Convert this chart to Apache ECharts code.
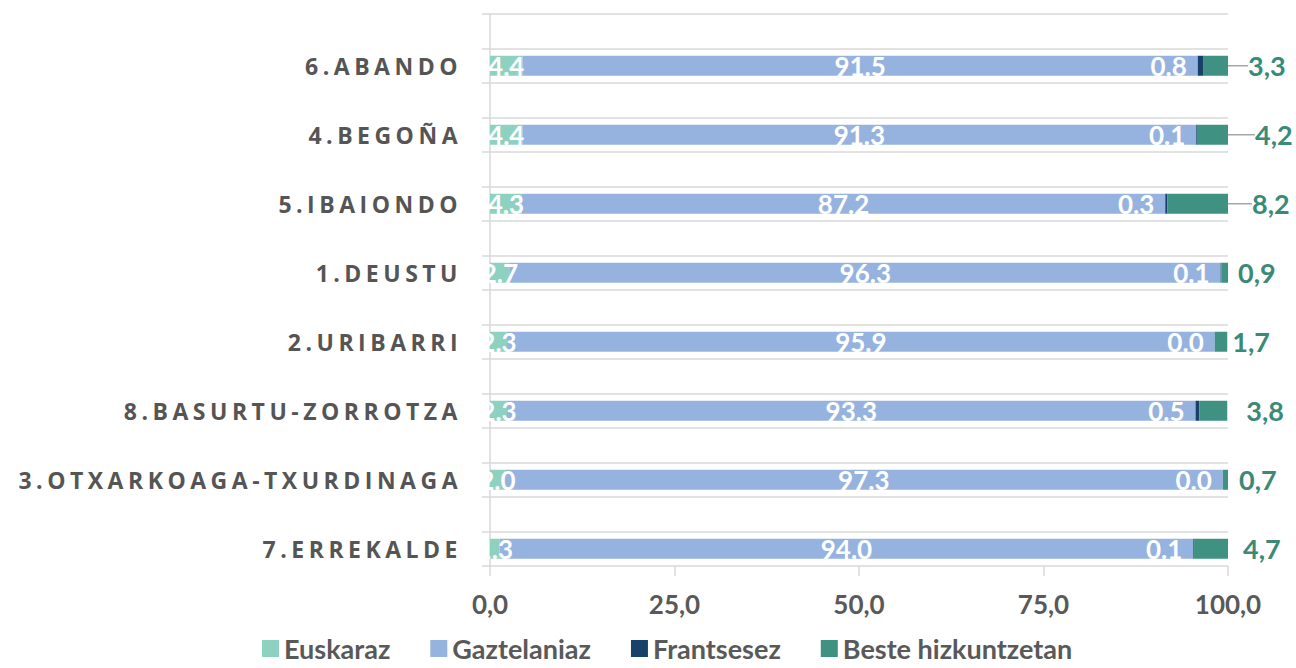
<!DOCTYPE html>
<html>
<head>
<meta charset="utf-8">
<script src="https://cdn.jsdelivr.net/npm/echarts@6/dist/echarts.min.js"></script>
<style>
html,body{margin:0;padding:0;background:#fff;}
#chart{width:1296px;height:668px;}
</style>
</head>
<body>
<div id="chart"></div>
<script>
//barrutiak, goitik behera
var districts = ['6.ABANDO','4.BEGOÑA','5.IBAIONDO','1.DEUSTU','2.URIBARRI','8.BASURTU-ZORROTZA','3.OTXARKOAGA-TXURDINAGA','7.ERREKALDE'];
var euskaraz = [4.4, 4.4, 4.3, 2.7, 2.3, 2.3, 2.0, 1.3];
var gaztelaniaz = [91.5, 91.3, 87.2, 96.3, 95.9, 93.3, 97.3, 94.0];
var frantsesez = [0.8, 0.1, 0.3, 0.1, 0.0, 0.5, 0.0, 0.1];
var beste = [3.3, 4.2, 8.2, 0.9, 1.7, 3.8, 0.7, 4.7];
var xTicks = [0, 25, 50, 75, 100];
var seriesNames = ['Euskaraz', 'Gaztelaniaz', 'Frantsesez', 'Beste hizkuntzetan'];

//azken etiketen desplazamendua eta gida-lerroak (Excel-eko jatorrizkoan bezala)
var besteDx = [15, 22, 19, 5, 0, 14, 6, 10];
var besteLine = [true, true, true, false, false, false, false, false];

//kategoria bakoitzaren aurretik tarte huts bat
var cats = [];
function spread(arr, fn) {
	var out = [];
	for (var i = 0; i < arr.length; i++) {
		out.push(null);
		out.push(fn ? fn(arr[i], i) : arr[i]);
	}
	return out;
}
for (var i = 0; i < districts.length; i++) {
	cats.push('');
	cats.push(districts[i]);
}

var grey = '#595959';
var numFont = 'Lato';
var chart = echarts.init(document.getElementById('chart'), null, {renderer: 'svg'});

function dot(p) { return p.value == null ? '' : Number(p.value).toFixed(1); }
function comma(p) { return p.value == null ? '' : Number(p.value).toFixed(1).replace('.', ','); }

var option = {
	animation: false,
	backgroundColor: '#fff',
	grid: {left: 490, right: 68, top: 14, bottom: 102},
	legend: {
		left: 257,
		top: 630,
		itemWidth: 17,
		itemHeight: 17,
		itemGap: 40,
		icon: 'rect',
		textStyle: {fontFamily: numFont, fontWeight: 'bold', fontSize: 27, color: grey},
		data: seriesNames
	},
	xAxis: {
		type: 'value',
		min: 0,
		max: 100,
		interval: 25,
		axisLine: {show: false},
		axisTick: {show: true, length: 10, lineStyle: {color: '#d9d9d9', width: 1.5}},
		splitLine: {show: false},
		axisLabel: {
			margin: 25,
			fontFamily: numFont,
			fontWeight: 'bold',
			fontSize: 26,
			color: grey,
			formatter: function (v) { return v.toFixed(1).replace('.', ','); }
		}
	},
	yAxis: {
		type: 'category',
		inverse: true,
		data: cats,
		axisLine: {show: true, lineStyle: {color: '#d9d9d9', width: 1.5}},
		axisTick: {show: true, length: 8, lineStyle: {color: '#d9d9d9', width: 1.5}},
		splitLine: {show: true, lineStyle: {color: '#d9d9d9', width: 1.5}},
		axisLabel: {
			margin: 28,
			fontFamily: 'Open Sans',
			fontWeight: 'bold',
			fontSize: 23,
			color: '#555555',
			interval: 0
		}
	},
	series: [{
		name: seriesNames[0],
		type: 'bar',
		stack: 'tot',
		barWidth: 20,
		itemStyle: {color: '#8fd1c1'},
		label: {show: true, position: 'inside', color: '#fff', fontFamily: numFont, fontWeight: 'bold', fontSize: 26, formatter: dot},
		data: spread(euskaraz)
	}, {
		name: seriesNames[1],
		type: 'bar',
		stack: 'tot',
		itemStyle: {color: '#95b3de'},
		label: {show: true, position: 'inside', color: '#fff', fontFamily: numFont, fontWeight: 'bold', fontSize: 26, formatter: dot},
		data: spread(gaztelaniaz)
	}, {
		name: seriesNames[2],
		type: 'bar',
		stack: 'tot',
		itemStyle: {color: '#17406a'},
		label: {show: true, position: 'left', distance: 11, color: '#fff', fontFamily: numFont, fontWeight: 'bold', fontSize: 26, formatter: dot},
		data: spread(frantsesez)
	}, {
		name: seriesNames[3],
		type: 'bar',
		stack: 'tot',
		itemStyle: {color: '#3f9281'},
		label: {show: true, position: 'right', distance: 5, color: '#3a8a78', fontFamily: numFont, fontWeight: 'bold', fontSize: 27, formatter: comma},
		labelLine: {show: true, lineStyle: {color: '#a6a6a6', width: 1.5}},
		labelLayout: function (p) {
			var k = (p.dataIndex - 1) / 2;
			return {dx: besteDx[k] || 0};
		},
		data: spread(beste, function (v, i) {
			return {value: v, labelLine: {show: besteLine[i]}};
		})
	}]
};
chart.setOption(option);

//barruti izenei letra-tartea
function spacing() {
	var texts = document.querySelectorAll('#chart text');
	for (var i = 0; i < texts.length; i++) {
		if (districts.indexOf(texts[i].textContent) >= 0) {
			texts[i].style.letterSpacing = '4.5px';
		}
	}
}
chart.on('finished', spacing);
setTimeout(spacing, 50);
</script>
</body>
</html>
